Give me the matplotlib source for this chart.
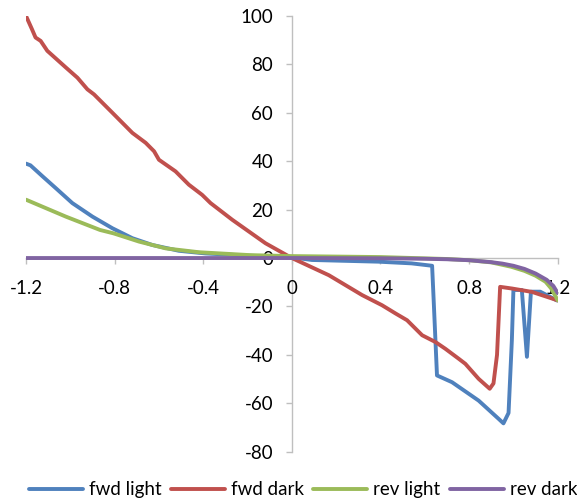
import matplotlib
matplotlib.use("Agg")
import matplotlib.pyplot as plt
from matplotlib.ticker import MultipleLocator, FormatStrFormatter

plt.rcParams['font.family'] = ['Lato', 'DejaVu Sans']

# Forward sweep under illumination
fwd_light_x = [-1.2, -1.18, -1.126, -1.066, -0.991, -0.90, -0.81, -0.72, -0.63,
               -0.51, -0.39, -0.2, 0.0, 0.09, 0.39, 0.54, 0.633, 0.64, 0.655,
               0.723, 0.843, 0.934, 0.955, 0.978, 0.993, 1.0, 1.038, 1.061,
               1.079, 1.121, 1.196, 1.2]
fwd_light_y = [39.0, 38.3, 33.8, 28.9, 22.7, 17.1, 12.3, 8.2, 5.4,
               3.0, 1.9, 1.0, 0.3, -0.8, -1.5, -2.2, -3.2, -17.4, -48.5,
               -51.3, -58.9, -66.5, -68.3, -64.0, -33.9, -13.2, -13.2, -40.8,
               -13.9, -13.9, -17.5, -17.5]

# Forward sweep in the dark
fwd_dark_x = [-1.2, -1.173, -1.157, -1.134, -1.104, -1.02, -0.968, -0.923, -0.893,
              -0.81, -0.72, -0.66, -0.622, -0.60, -0.525, -0.465, -0.405, -0.367,
              -0.269, -0.119, 0.0, 0.167, 0.242, 0.317, 0.407, 0.468, 0.52, 0.588,
              0.648, 0.693, 0.753, 0.783, 0.843, 0.893, 0.91, 0.926, 0.94, 0.994,
              1.084, 1.2]
fwd_dark_y = [100.0, 94.5, 91.1, 89.7, 85.6, 78.7, 74.5, 69.7, 67.6,
              60.0, 51.7, 47.6, 44.1, 40.6, 35.8, 30.3, 26.1, 22.7,
              15.8, 6.1, 0.0, -7.1, -11.2, -15.3, -19.5, -22.9, -25.7, -31.9,
              -34.7, -37.5, -41.6, -43.7, -49.9, -54.0, -51.8, -40.0, -11.9, -12.6,
              -14.0, -17.5]

# Reverse sweep under illumination
rev_light_x = [-1.2, -1.02, -0.866, -0.805, -0.69, -0.57, -0.42, -0.19, 0.0, 0.4,
               0.7, 0.8, 0.9, 0.99, 1.05, 1.1, 1.145, 1.17, 1.19, 1.2]
rev_light_y = [24.1, 17.1, 11.6, 10.2, 6.8, 4.0, 2.4, 1.2, 0.8, 0.4,
               -0.4, -0.9, -1.8, -3.6, -5.3, -7.3, -9.8, -12.5, -15.8, -17.5]

# Reverse sweep in the dark
rev_dark_x = [-1.2, -0.6, 0.0, 0.4, 0.6, 0.7, 0.8, 0.9, 0.95, 1.0, 1.05, 1.1,
              1.15, 1.18, 1.2]
rev_dark_y = [0.0, 0.0, 0.0, -0.1, -0.3, -0.5, -0.9, -1.7, -2.3, -3.2, -4.5, -6.4,
              -9.0, -11.5, -14.5]

series = [
    ("fwd light", fwd_light_x, fwd_light_y, "#4F81BD"),
    ("fwd dark", fwd_dark_x, fwd_dark_y, "#C0504D"),
    ("rev light", rev_light_x, rev_light_y, "#9BBB59"),
    ("rev dark", rev_dark_x, rev_dark_y, "#8064A2"),
]

fig = plt.figure(figsize=(5.77, 5.04), dpi=100)
ax = fig.add_axes([0.0451, 0.1038, 0.9215, 0.8645])

for name, xs, ys, color in series:
    ax.plot(xs, ys, color=color, lw=2.8, label=name,
            solid_joinstyle="round", solid_capstyle="round")

ax.set_xlim(-1.2, 1.2)
ax.set_ylim(-80, 100)

ax.spines['left'].set_position(('data', 0))
ax.spines['bottom'].set_position(('data', 0))
ax.spines['top'].set_visible(False)
ax.spines['right'].set_visible(False)
for s in ('left', 'bottom'):
    ax.spines[s].set_color('#BFBFBF')
    ax.spines[s].set_linewidth(1.0)
    ax.spines[s].set_zorder(0.5)

ax.xaxis.set_major_locator(MultipleLocator(0.4))
ax.yaxis.set_major_locator(MultipleLocator(20))
ax.xaxis.set_major_formatter(FormatStrFormatter('%g'))
ax.yaxis.set_major_formatter(FormatStrFormatter('%g'))

ax.tick_params(axis='both', direction='out', length=4.5, width=1.0,
               color='#BFBFBF', labelsize=13.5, labelcolor='black')
ax.tick_params(axis='x', pad=11)
ax.tick_params(axis='y', pad=9)

fig.legend(loc='center', bbox_to_anchor=(0.525, 0.028), ncol=4, frameon=False,
           fontsize=13.5, handlelength=2.9, handletextpad=0.3, columnspacing=0.5,
           borderaxespad=0, borderpad=0.1)

fig.savefig("out.png", dpi=100)
